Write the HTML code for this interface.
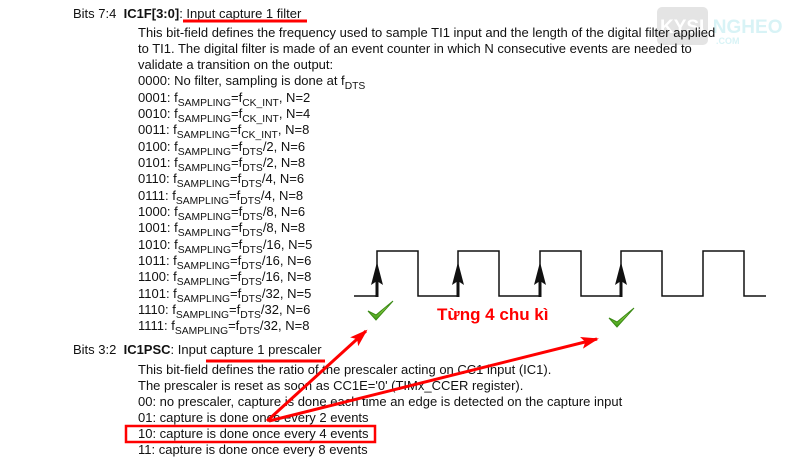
<!DOCTYPE html>
<html><head><meta charset="utf-8"><style>
html,body{margin:0;padding:0;background:#fff;}
#c{position:relative;width:805px;height:473px;overflow:hidden;font-family:"Liberation Sans",Arial,sans-serif;font-size:13px;color:#111;}
.l{position:absolute;white-space:nowrap;line-height:14px;}
sub{font-size:10.3px;vertical-align:-4px;line-height:0;}
svg{position:absolute;left:0;top:0;}
</style></head><body><div id="c">
<div style="position:absolute;left:657px;top:7px;width:51px;height:38px;background:#e4e4e4;border-radius:5px"></div>
<div class="l" style="left:660px;top:18px;color:#fff;font-weight:bold;font-size:19px;line-height:20px">KYSU<span style="color:#d8f3f6">NGHEO</span></div>
<div class="l" style="left:716px;top:37px;color:#d8f3f6;font-weight:bold;font-size:9px;line-height:9px">.COM</div>
<div class="l" style="left:73px;top:7px">Bits 7:4&nbsp;&nbsp;<b>IC1F[3:0]</b>: Input capture 1 filter</div>
<div class="l" style="left:138px;top:26px">This bit-field defines the frequency used to sample TI1 input and the length of the digital filter applied</div>
<div class="l" style="left:138px;top:42px">to TI1. The digital filter is made of an event counter in which N consecutive events are needed to</div>
<div class="l" style="left:138px;top:58px">validate a transition on the output:</div>
<div class="l" style="left:138px;top:74px">0000: No filter, sampling is done at f<sub>DTS</sub></div>
<div class="l" style="left:138px;top:91px">0001: f<sub>SAMPLING</sub>=f<sub>CK_INT</sub>, N=2</div>
<div class="l" style="left:138px;top:107px">0010: f<sub>SAMPLING</sub>=f<sub>CK_INT</sub>, N=4</div>
<div class="l" style="left:138px;top:123px">0011: f<sub>SAMPLING</sub>=f<sub>CK_INT</sub>, N=8</div>
<div class="l" style="left:138px;top:140px">0100: f<sub>SAMPLING</sub>=f<sub>DTS</sub>/2, N=6</div>
<div class="l" style="left:138px;top:156px">0101: f<sub>SAMPLING</sub>=f<sub>DTS</sub>/2, N=8</div>
<div class="l" style="left:138px;top:172px">0110: f<sub>SAMPLING</sub>=f<sub>DTS</sub>/4, N=6</div>
<div class="l" style="left:138px;top:189px">0111: f<sub>SAMPLING</sub>=f<sub>DTS</sub>/4, N=8</div>
<div class="l" style="left:138px;top:205px">1000: f<sub>SAMPLING</sub>=f<sub>DTS</sub>/8, N=6</div>
<div class="l" style="left:138px;top:221px">1001: f<sub>SAMPLING</sub>=f<sub>DTS</sub>/8, N=8</div>
<div class="l" style="left:138px;top:238px">1010: f<sub>SAMPLING</sub>=f<sub>DTS</sub>/16, N=5</div>
<div class="l" style="left:138px;top:254px">1011: f<sub>SAMPLING</sub>=f<sub>DTS</sub>/16, N=6</div>
<div class="l" style="left:138px;top:270px">1100: f<sub>SAMPLING</sub>=f<sub>DTS</sub>/16, N=8</div>
<div class="l" style="left:138px;top:287px">1101: f<sub>SAMPLING</sub>=f<sub>DTS</sub>/32, N=5</div>
<div class="l" style="left:138px;top:303px">1110: f<sub>SAMPLING</sub>=f<sub>DTS</sub>/32, N=6</div>
<div class="l" style="left:138px;top:319px">1111: f<sub>SAMPLING</sub>=f<sub>DTS</sub>/32, N=8</div>
<div class="l" style="left:73px;top:343px">Bits 3:2&nbsp;&nbsp;<b>IC1PSC</b>: Input capture 1 prescaler</div>
<div class="l" style="left:138px;top:363px">This bit-field defines the ratio of the prescaler acting on CC1 input (IC1).</div>
<div class="l" style="left:138px;top:379px">The prescaler is reset as soon as CC1E='0' (TIMx_CCER register).</div>
<div class="l" style="left:138px;top:395px">00: no prescaler, capture is done each time an edge is detected on the capture input</div>
<div class="l" style="left:138px;top:411px">01: capture is done once every 2 events</div>
<div class="l" style="left:138px;top:427px">10: capture is done once every 4 events</div>
<div class="l" style="left:138px;top:443px">11: capture is done once every 8 events</div>
<div class="l" style="left:437px;top:306px;color:#f00;font-weight:bold;font-size:17px;line-height:18px">Từng 4 chu kì</div>
<svg width="805" height="473">
<defs>
<marker id="r" markerWidth="18" markerHeight="12" refX="16" refY="6" orient="auto" markerUnits="userSpaceOnUse"><path d="M0,0L18,6L0,12L4,6Z" fill="#f00"/></marker>
<linearGradient id="g" x1="0" y1="0" x2="0" y2="1"><stop offset="0" stop-color="#c8f56a"/><stop offset="1" stop-color="#3a9a14"/></linearGradient></defs>
<polyline points="354,296 377,296 377,251 418,251 418,296 458,296 458,251 499,251 499,296 540,296 540,251 581,251 581,296 621,296 621,251 662,251 662,296 703,296 703,251 744,251 744,296 766,296" fill="none" stroke="#111" stroke-width="1.5"/>
<g fill="#111" stroke="#111" stroke-width="3">
<line x1="377" y1="297" x2="377" y2="278"/><path stroke="none" d="M377,262 L383,285 L377,281 L371,285 Z"/>
<line x1="458" y1="297" x2="458" y2="278"/><path stroke="none" d="M458,262 L464,285 L458,281 L452,285 Z"/>
<line x1="540" y1="297" x2="540" y2="278"/><path stroke="none" d="M540,262 L546,285 L540,281 L534,285 Z"/>
<line x1="621" y1="297" x2="621" y2="278"/><path stroke="none" d="M621,262 L627,285 L621,281 L615,285 Z"/>
</g>
<path d="M368,311 L376,320 L393,301 L376,315 Z" fill="url(#g)" stroke="#3a8a14" stroke-width="1"/>
<path d="M609,318 L617,327 L634,308 L617,322 Z" fill="url(#g)" stroke="#3a8a14" stroke-width="1"/>
<line x1="183" y1="21" x2="307" y2="21" stroke="#f00" stroke-width="3"/>
<line x1="206" y1="361" x2="325" y2="361" stroke="#f00" stroke-width="3"/>
<rect x="126" y="426" width="249" height="16" fill="none" stroke="#f00" stroke-width="2.5"/>
<g stroke="#f00" stroke-width="3" fill="none">
<line x1="267" y1="421" x2="366" y2="331" marker-end="url(#r)"/>
<line x1="269" y1="421" x2="597" y2="339" marker-end="url(#r)"/></g>
</svg>
</div></body></html>
